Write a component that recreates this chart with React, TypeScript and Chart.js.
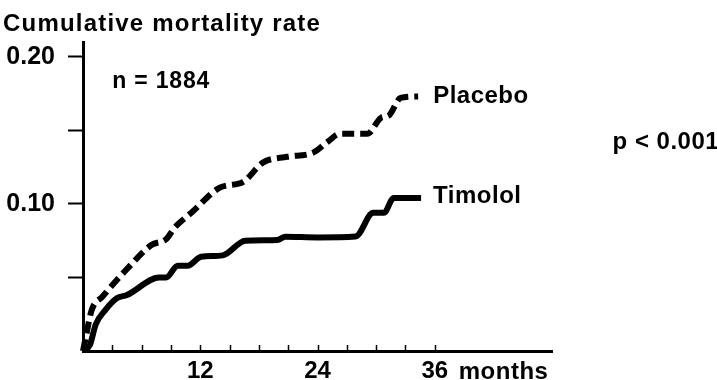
import React, { useEffect, useRef } from "react";
import { Chart, registerables } from "chart.js";

Chart.register(...registerables);

// ---- data ----
const placeboMonths = [0, 0.3, 0.9, 2.0, 4.4, 7.0, 8.5, 9.4, 11.2, 14.0, 16.4, 18.4, 20.9, 23.6, 25.0, 26.3, 29.1, 30.5, 31.3, 32.5, 34.3];
const placeboRate = [0, 0.01, 0.028, 0.037, 0.055, 0.072, 0.076, 0.084, 0.0946, 0.111, 0.115, 0.128, 0.132, 0.135, 0.142, 0.1476, 0.1476, 0.1585, 0.16, 0.172, 0.173];

const timololMonths = [0, 0.7, 1.3, 2.3, 3.5, 4.5, 7.8, 8.5, 9.7, 10.7, 12.1, 14.3, 16.6, 19.9, 20.7, 24.0, 27.9, 29.7, 30.8, 31.8, 34.6];
const timololRate = [0, 0.004, 0.018, 0.028, 0.036, 0.038, 0.05, 0.05, 0.058, 0.058, 0.064, 0.065, 0.075, 0.0755, 0.0776, 0.0772, 0.0778, 0.0939, 0.0939, 0.104, 0.104];

const xLabelMonths = [12, 24, 36];
const yLabelValues = [0.1, 0.2];
const xTickStep = 3;
const xTickLast = 36;

const titleText = "Cumulative mortality rate";
const sampleText = "n = 1884";
const pText = "p < 0.001";
const placeboLabel = "Placebo";
const timololLabel = "Timolol";
const monthsText = "months";

const FONT = "'Liberation Sans', Arial, Helvetica, sans-serif";

function toPoints(xs: number[], ys: number[]) {
  return xs.map((x, i) => ({ x, y: ys[i] }));
}

const annotationPlugin = {
  id: "annotations",
  afterDraw(chart: any) {
    const ctx = chart.ctx as CanvasRenderingContext2D;
    const xs = chart.scales.x;
    const ys = chart.scales.y;
    ctx.save();
    // inward x ticks
    ctx.strokeStyle = "#000";
    ctx.lineWidth = 1.5;
    const bottom = chart.chartArea.bottom;
    for (let m = xTickStep; m <= xTickLast; m += xTickStep) {
      const px = Math.round(xs.getPixelForValue(m)) + 0.5;
      ctx.beginPath();
      ctx.moveTo(px, bottom);
      ctx.lineTo(px, bottom - 6);
      ctx.stroke();
    }
    ctx.fillStyle = "#000";
    ctx.textBaseline = "middle";
    ctx.textAlign = "left";
    // title
    ctx.font = `bold 24px ${FONT}`;
    (ctx as any).letterSpacing = "1.2px";
    ctx.fillText(titleText, 3, 24);
    (ctx as any).letterSpacing = "0.8px";
    ctx.font = `bold 23px ${FONT}`;
    ctx.fillText(sampleText, xs.getPixelForValue(3), ys.getPixelForValue(0.183));
    ctx.font = `bold 24px ${FONT}`;
    (ctx as any).letterSpacing = "0.5px";
    const pl = placeboMonths.length - 1;
    ctx.fillText(placeboLabel, xs.getPixelForValue(placeboMonths[pl]) + 15, ys.getPixelForValue(placeboRate[pl]));
    const tl = timololMonths.length - 1;
    ctx.fillText(timololLabel, xs.getPixelForValue(timololMonths[tl]) + 12, ys.getPixelForValue(timololRate[tl]) - 2);
    ctx.fillText(pText, xs.getPixelForValue(54.2), ys.getPixelForValue(0.1415));
    // "months" after the 36 label
    ctx.textBaseline = "top";
    const lastLab = xLabelMonths[xLabelMonths.length - 1];
    ctx.fillText(monthsText, xs.getPixelForValue(lastLab) + 24, bottom + 9);
    ctx.restore();
  },
};

export default function App() {
  const ref = useRef<HTMLCanvasElement | null>(null);
  useEffect(() => {
    if (!ref.current) return;
    const chart = new Chart(ref.current, {
      type: "line",
      data: {
        datasets: [
          {
            label: placeboLabel,
            data: toPoints(placeboMonths, placeboRate),
            borderColor: "#000",
            borderWidth: 6,
            borderDash: [12, 6],
            borderCapStyle: "butt",
            pointRadius: 0,
            cubicInterpolationMode: "monotone",
            fill: false,
            clip: false as any,
          },
          {
            label: timololLabel,
            data: toPoints(timololMonths, timololRate),
            borderColor: "#000",
            borderWidth: 6,
            borderJoinStyle: "round",
            borderCapStyle: "butt",
            pointRadius: 0,
            cubicInterpolationMode: "monotone",
            fill: false,
            clip: false as any,
          },
        ],
      },
      options: {
        animation: false,
        responsive: false,
        layout: { padding: { top: 42, right: 165, left: 0, bottom: 0 } },
        plugins: {
          legend: { display: false },
          tooltip: { enabled: false },
          title: { display: false },
        },
        scales: {
          x: {
            type: "linear",
            min: 0,
            max: 48,
            afterFit: (s: any) => {
              s.height = 29;
            },
            grid: { display: true, drawOnChartArea: false, drawTicks: false },
            border: { display: true, color: "#000", width: 3 },
            ticks: {
              stepSize: xTickStep,
              autoSkip: false,
              maxRotation: 0,
              color: "#000",
              padding: 6,
              font: { family: FONT, size: 24, weight: "bold" },
              callback: (v: any) => (xLabelMonths.includes(Number(v)) ? String(v) : ""),
            },
          },
          y: {
            type: "linear",
            min: 0,
            max: 0.21,
            afterFit: (s: any) => {
              s.width = 83;
            },
            afterBuildTicks: (s: any) => {
              s.ticks = [0.05, 0.1, 0.15, 0.2].map((v) => ({ value: v }));
            },
            grid: {
              display: true,
              drawOnChartArea: false,
              drawTicks: true,
              tickLength: 15,
              tickWidth: 2,
              tickColor: "#000",
            },
            border: { display: true, color: "#000", width: 3 },
            ticks: {
              color: "#000",
              padding: 13,
              font: { family: FONT, size: 25, weight: "bold" },
              callback: (v: any) =>
                yLabelValues.some((t) => Math.abs(t - Number(v)) < 1e-6) ? Number(v).toFixed(2) : "",
            },
          },
        },
      },
      plugins: [annotationPlugin],
    });
    return () => chart.destroy();
  }, []);
  return (
    <div style={{ position: "fixed", left: 0, top: 0, width: 717, height: 380, background: "#fff" }}>
      <canvas ref={ref} width={717} height={380} />
    </div>
  );
}
